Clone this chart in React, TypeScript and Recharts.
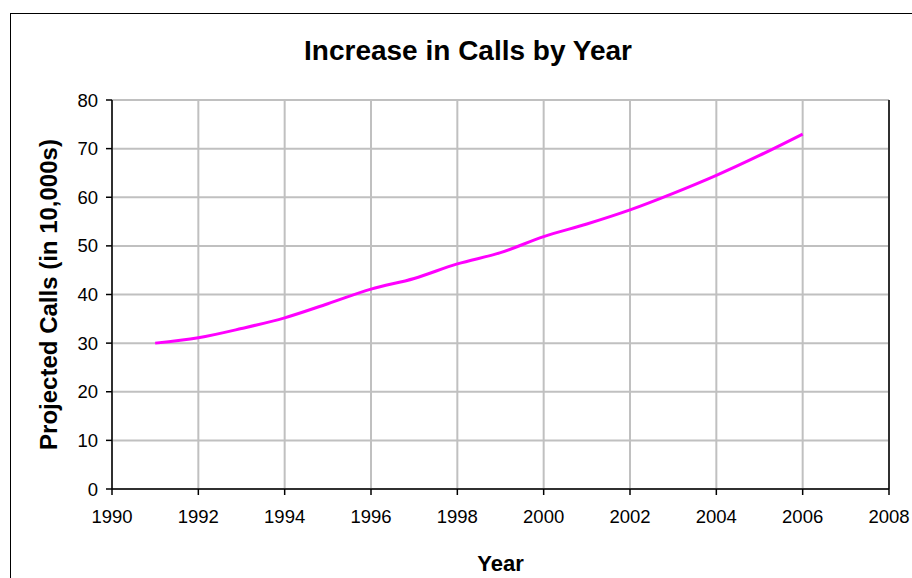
import React from "react";
import { LineChart, Line, XAxis, YAxis, CartesianGrid, ReferenceLine, Label } from "recharts";

const years = [1991, 1992, 1993, 1994, 1995, 1996, 1997, 1998, 1999, 2000, 2001, 2002, 2003, 2004, 2005, 2006];
const calls = [30, 31.1, 33, 35.2, 38.1, 41.1, 43.3, 46.3, 48.6, 51.9, 54.5, 57.4, 60.8, 64.5, 68.6, 73];
const xTicks = [1990, 1992, 1994, 1996, 1998, 2000, 2002, 2004, 2006, 2008];
const yTicks = [0, 10, 20, 30, 40, 50, 60, 70, 80];

const data = years.map((year, i) => ({ year, calls: calls[i] }));

const font = "'Liberation Sans', Arial, sans-serif";

export default function App() {
    return (
        <div style={{ position: "absolute", left: 0, top: 0, width: 912, height: 578, overflow: "hidden", background: "#fff", fontFamily: font }}>
            <div style={{ position: "absolute", left: 10, top: 13, width: 1000, height: 700, border: "1px solid #000" }} />
            <div
                style={{
                    position: "absolute",
                    left: 268,
                    width: 400,
                    top: 35,
                    textAlign: "center",
                    fontSize: 28,
                    fontWeight: "bold",
                    color: "#000",
                }}
            >
                Increase in Calls by Year
            </div>
            <div style={{ position: "absolute", left: 0, top: 0 }}>
                <LineChart width={912} height={578} data={data} margin={{ top: 100, right: 23, bottom: 0, left: 0 }}>
                    <CartesianGrid stroke="#c0c0c0" strokeWidth={2} horizontalValues={yTicks} verticalValues={xTicks} />
                    <XAxis
                        dataKey="year"
                        type="number"
                        domain={[1990, 2008]}
                        ticks={xTicks}
                        height={89}
                        stroke="#000"
                        strokeWidth={1.5}
                        tickSize={6}
                        tickMargin={15}
                        tick={{ fill: "#000", fontSize: 18.5, fontFamily: font }}
                    >
                        <Label value="Year" position="insideBottom" offset={7} style={{ fontSize: 22, fontWeight: "bold", fill: "#000", fontFamily: font }} />
                    </XAxis>
                    <YAxis
                        type="number"
                        domain={[0, 80]}
                        ticks={yTicks}
                        width={112}
                        stroke="#000"
                        strokeWidth={1.5}
                        tickSize={6}
                        tickMargin={8}
                        tick={{ fill: "#000", fontSize: 18.5, fontFamily: font }}
                    >
                        <Label
                            value="Projected Calls (in 10,000s)"
                            angle={-90}
                            position="insideLeft"
                            offset={0}
                            dx={48}
                            style={{ fontSize: 24, fontWeight: "bold", fill: "#000", fontFamily: font, textAnchor: "middle" }}
                        />
                    </YAxis>
                    <ReferenceLine x={2008} stroke="#000" strokeWidth={1.5} />
                    <Line
                        type="monotone"
                        dataKey="calls"
                        stroke="#ff00ff"
                        strokeWidth={3}
                        dot={false}
                        isAnimationActive={false}
                    />
                </LineChart>
            </div>
        </div>
    );
}
